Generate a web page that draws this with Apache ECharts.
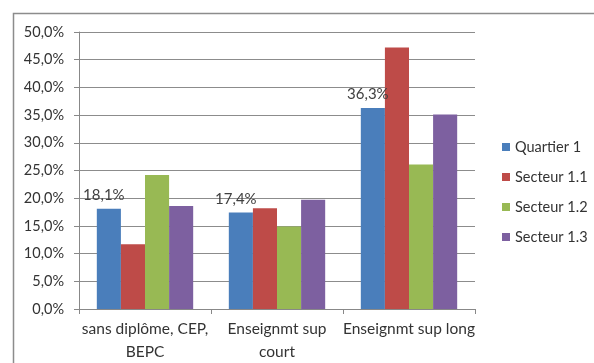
<!DOCTYPE html>
<html>
<head>
<meta charset="utf-8">
<script src="https://cdn.jsdelivr.net/npm/echarts@6/dist/echarts.min.js"></script>
<style>
  html, body { margin: 0; padding: 0; background: #fff; }
  #chart { width: 594px; height: 363px; }
</style>
</head>
<body>
<div id="chart"></div>
<script>
// données
const categories = ['sans diplôme, CEP,\nBEPC', 'Enseignmt sup\ncourt', 'Enseignmt sup long'];
const quartier1 = [18.1, 17.4, 36.3];
const secteur11 = [11.7, 18.2, 47.2];
const secteur12 = [24.2, 14.9, 26.1];
const secteur13 = [18.6, 19.7, 35.1];

const FONT = 'Lato, "Liberation Sans", sans-serif';
const fmt = v => v.toFixed(1).replace('.', ',') + '%';

const chart = echarts.init(document.getElementById('chart'));

function bar(name, data, color, withLabel) {
  return {
    name: name,
    type: 'bar',
    data: data,
    barGap: '0%',
    barCategoryGap: '27%',
    itemStyle: { color: color },
    label: {
      show: withLabel,
      position: 'top',
      distance: 6,
      offset: [-5, 0],
      color: '#404040',
      fontFamily: FONT,
      fontSize: 15,
      formatter: p => fmt(p.value)
    }
  };
}

chart.setOption({
  backgroundColor: '#fff',
  animation: false,
  graphic: [{
    type: 'polyline',
    shape: { points: [[13.5, 363], [13.5, 13.5], [594, 13.5]] },
    style: { stroke: '#8c8c8c', lineWidth: 1.5, fill: null }
  }],
  grid: { left: 79, top: 32, right: 119, bottom: 54 },
  legend: {
    orient: 'vertical',
    left: 497,
    top: 134,
    itemWidth: 8,
    itemHeight: 8,
    itemGap: 14,
    icon: 'rect',
    textStyle: { color: '#333', fontFamily: FONT, fontSize: 14.5, lineHeight: 16 },
    data: ['Quartier 1', 'Secteur 1.1', 'Secteur 1.2', 'Secteur 1.3']
  },
  xAxis: {
    type: 'category',
    data: categories,
    axisLine: { lineStyle: { color: '#888' } },
    axisTick: { show: true, length: 5, lineStyle: { color: '#888' } },
    axisLabel: {
      interval: 0,
      color: '#333',
      fontFamily: FONT,
      fontSize: 15.5,
      lineHeight: 23,
      margin: 8
    }
  },
  yAxis: {
    type: 'value',
    min: 0,
    max: 50,
    interval: 5,
    axisLine: { show: true, lineStyle: { color: '#888' } },
    axisTick: { show: true, length: 5, lineStyle: { color: '#888' } },
    splitLine: { lineStyle: { color: '#8c8c8c' } },
    axisLabel: {
      color: '#333',
      fontFamily: FONT,
      fontSize: 14.5,
      margin: 15,
      formatter: v => fmt(v)
    }
  },
  series: [
    bar('Quartier 1', quartier1, '#4a7ebb', true),
    bar('Secteur 1.1', secteur11, '#be4b48', false),
    bar('Secteur 1.2', secteur12, '#98b954', false),
    bar('Secteur 1.3', secteur13, '#7d60a0', false)
  ]
});
</script>
</body>
</html>
